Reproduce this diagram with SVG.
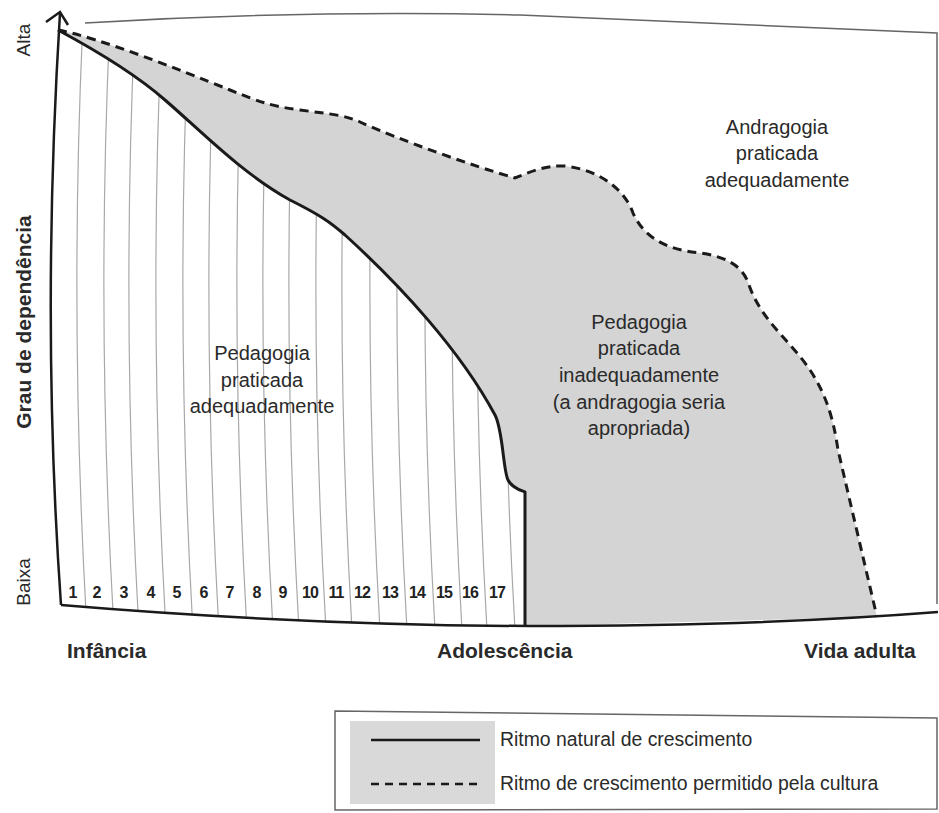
<svg xmlns="http://www.w3.org/2000/svg" width="939" height="813" viewBox="0 0 939 813">
<style>
  .lbl { font-family: "Liberation Sans", Arial, sans-serif; fill: #2a2a2a; }
  .reg { font-size: 20px; }
  .bold { font-weight: bold; }
  .num { font-family: "Liberation Sans", Arial, sans-serif; font-size: 16px; font-weight: bold; fill: #222; text-anchor: middle; }
  .hatch { fill: none; stroke: #a8a8a8; stroke-width: 1.2; }
  .solid { fill: none; stroke: #1a1a1a; stroke-width: 3; stroke-linejoin: round; }
  .dashed { fill: none; stroke: #1a1a1a; stroke-width: 3; stroke-dasharray: 9 6; }
  .frame { fill: none; stroke: #666; stroke-width: 1.5; }
  .axis { fill: none; stroke: #1a1a1a; stroke-width: 2.5; }
</style>
<defs>
  <clipPath id="hatchClip">
    <path d="M58,30 C110,58 140,78 165,100 C200,130 240,172 290,200 C320,215 330,222 345,235 C400,285 460,350 495,415 C503,430 503,470 508,480 C512,488 520,490 525,492 L525,626 Q300,625 61,605 Q41,320 58,30 Z"/>
  </clipPath>
</defs>
<rect width="939" height="813" fill="#ffffff"/>

<g id="regions">
  <path id="grey-region" fill="#d4d4d4" d="M58,30 C100,38 180,70 230,90 C260,102 270,106 300,110 C330,114 345,115 360,122 C400,140 470,165 515,178 C530,172 545,165 565,166 C600,170 625,190 633,213 C645,240 670,250 700,253 C720,256 740,262 748,282 C760,320 790,340 810,370 C830,400 835,430 838,450 L877,617 L525,626 Q300,625 61,605 Z"/>
  <path id="white-region" fill="#ffffff" d="M58,30 C110,58 140,78 165,100 C200,130 240,172 290,200 C320,215 330,222 345,235 C400,285 460,350 495,415 C503,430 503,470 508,480 C512,488 520,490 525,492 L525,626 Q300,625 61,605 Q41,320 58,30 Z"/>
</g>

<g id="age-lines" clip-path="url(#hatchClip)">
  <path class="hatch" d="M83,20 Q69,320 87,630"/>
  <path class="hatch" d="M110,20 Q96,320 114,630"/>
  <path class="hatch" d="M135,20 Q121,320 139,630"/>
  <path class="hatch" d="M162,20 Q148,320 166,630"/>
  <path class="hatch" d="M189,20 Q175,320 193,630"/>
  <path class="hatch" d="M215,20 Q201,320 219,630"/>
  <path class="hatch" d="M243,20 Q229,320 247,630"/>
  <path class="hatch" d="M269,20 Q255,320 273,630"/>
  <path class="hatch" d="M295,20 Q281,320 299,630"/>
  <path class="hatch" d="M322,20 Q308,320 326,630"/>
  <path class="hatch" d="M348,20 Q334,320 352,630"/>
  <path class="hatch" d="M376,20 Q362,320 380,630"/>
  <path class="hatch" d="M403,20 Q389,320 407,630"/>
  <path class="hatch" d="M431,20 Q417,320 435,630"/>
  <path class="hatch" d="M458,20 Q444,320 462,630"/>
  <path class="hatch" d="M483,20 Q469,320 487,630"/>
  <path class="hatch" d="M511,20 Q497,320 515,630"/>
</g>

<g id="frame">
  <path class="frame" d="M85,23 Q300,10 520,15 L937,33 L937,604"/>
</g>

<g id="connectors">
  <path id="y-axis" class="axis" d="M60,13 Q41,320 61,605"/>
  <path id="arrowhead" class="axis" d="M46,22 L60,12 L68,25"/>
  <path id="x-axis" class="axis" d="M61,605 Q300,625 530,626 Q760,626 938,612"/>
  <path id="natural-rhythm" class="solid" d="M58,30 C110,58 140,78 165,100 C200,130 240,172 290,200 C320,215 330,222 345,235 C400,285 460,350 495,415 C503,430 503,470 508,480 C512,488 520,490 525,492 L525,626"/>
  <path id="cultural-rhythm" class="dashed" d="M58,30 C100,38 180,70 230,90 C260,102 270,106 300,110 C330,114 345,115 360,122 C400,140 470,165 515,178 C530,172 545,165 565,166 C600,170 625,190 633,213 C645,240 670,250 700,253 C720,256 740,262 748,282 C760,320 790,340 810,370 C830,400 835,430 838,450 L877,617"/>
</g>

<g id="axis-labels">
  <text class="lbl" font-size="19" text-anchor="middle" transform="translate(30,40) rotate(-90)">Alta</text>
  <text class="lbl bold" font-size="21" text-anchor="middle" transform="translate(31,322) rotate(-90)">Grau de dependência</text>
  <text class="lbl" font-size="19" text-anchor="middle" transform="translate(30,582) rotate(-90)">Baixa</text>
  <text class="lbl bold" font-size="21" x="67" y="658">Infância</text>
  <text class="lbl bold" font-size="21" x="437" y="658">Adolescência</text>
  <text class="lbl bold" font-size="21" x="804" y="658">Vida adulta</text>
</g>

<g id="ages">
  <text class="num" x="73" y="598">1</text>
  <text class="num" x="97" y="598">2</text>
  <text class="num" x="124" y="598">3</text>
  <text class="num" x="151" y="598">4</text>
  <text class="num" x="177" y="598">5</text>
  <text class="num" x="204" y="598">6</text>
  <text class="num" x="230" y="598">7</text>
  <text class="num" x="257" y="598">8</text>
  <text class="num" x="283" y="598">9</text>
  <text class="num" x="310" y="598" letter-spacing="-1">10</text>
  <text class="num" x="336" y="598" letter-spacing="-1">11</text>
  <text class="num" x="362" y="598" letter-spacing="-1">12</text>
  <text class="num" x="390" y="598" letter-spacing="-1">13</text>
  <text class="num" x="417" y="598" letter-spacing="-1">14</text>
  <text class="num" x="444" y="598" letter-spacing="-1">15</text>
  <text class="num" x="470" y="598" letter-spacing="-1">16</text>
  <text class="num" x="497" y="598" letter-spacing="-1">17</text>
</g>

<g id="node-pedagogia-adequada">
  <text class="lbl reg" text-anchor="middle" x="262" y="360">Pedagogia</text>
  <text class="lbl reg" text-anchor="middle" x="262" y="387">praticada</text>
  <text class="lbl reg" text-anchor="middle" x="262" y="413">adequadamente</text>
</g>

<g id="node-pedagogia-inadequada">
  <text class="lbl reg" text-anchor="middle" x="639" y="329">Pedagogia</text>
  <text class="lbl reg" text-anchor="middle" x="639" y="355">praticada</text>
  <text class="lbl reg" text-anchor="middle" x="639" y="382">inadequadamente</text>
  <text class="lbl reg" text-anchor="middle" x="639" y="409">(a andragogia seria</text>
  <text class="lbl reg" text-anchor="middle" x="639" y="435">apropriada)</text>
</g>

<g id="node-andragogia">
  <text class="lbl reg" text-anchor="middle" x="777" y="134">Andragogia</text>
  <text class="lbl reg" text-anchor="middle" x="777" y="160">praticada</text>
  <text class="lbl reg" text-anchor="middle" x="777" y="187">adequadamente</text>
</g>

<g id="legend">
  <path class="frame" d="M335,711 L937,718 L937,809 L335,810 Z"/>
  <rect x="350" y="721" width="145" height="83" fill="#d9d9d9"/>
  <line x1="371" y1="740" x2="480" y2="740" stroke="#1a1a1a" stroke-width="2.5"/>
  <line x1="371" y1="784" x2="480" y2="784" stroke="#1a1a1a" stroke-width="2.5" stroke-dasharray="8 6"/>
  <text class="lbl" font-size="19.4" x="500" y="746">Ritmo natural de crescimento</text>
  <text class="lbl" font-size="19.4" x="500" y="790">Ritmo de crescimento permitido pela cultura</text>
</g>
</svg>
